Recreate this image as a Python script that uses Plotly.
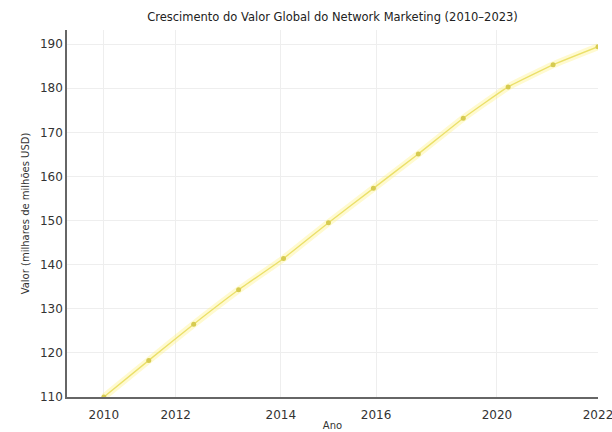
import plotly.graph_objects as go

# Data
years = [2010, 2011, 2012, 2013, 2014, 2015, 2016, 2017, 2018, 2019, 2020, 2021]
values = [110.0, 118.3, 126.5, 134.3, 141.4, 149.5, 157.3, 165.1, 173.2, 180.3, 185.3, 189.4]

# Tick labels as shown in the reference
x_tick_labels = ["2010", "2012", "2014", "2016", "2020", "2022"]
x_tick_pos = [2010, 2011.6, 2013.94, 2016.06, 2018.75, 2021.0]
y_ticks = [110, 120, 130, 140, 150, 160, 170, 180, 190]

FONT = "DejaVu Sans"

fig = go.Figure()
# soft glow under the line
fig.add_trace(go.Scatter(
    x=years, y=values, mode="lines",
    line=dict(color="rgba(255,242,120,0.35)", width=7, shape="spline", smoothing=0.4),
    hoverinfo="skip", showlegend=False,
))
fig.add_trace(go.Scatter(
    x=years, y=values, mode="lines+markers",
    line=dict(color="#ebe06a", width=1.4, shape="spline", smoothing=0.4),
    marker=dict(color="#d6cb50", size=5),
    showlegend=False,
))

fig.update_layout(
    width=612, height=432,
    margin=dict(l=67, r=14, t=30, b=35, autoexpand=False),
    paper_bgcolor="white", plot_bgcolor="white",
    font=dict(family=FONT, color="#333333", size=12),
    title=dict(
        text="Crescimento do Valor Global do Network Marketing (2010–2023)",
        font=dict(family=FONT, size=11.5, color="#222222"),
        x=0.5, xref="paper", xanchor="center",
        y=1 - 17 / 432, yref="container", yanchor="middle",
    ),
)
fig.update_xaxes(
    range=[2009.18, 2021.0],
    tickmode="array", tickvals=x_tick_pos, ticktext=x_tick_labels,
    showgrid=True, gridcolor="#eeeeee", gridwidth=1,
    showline=True, linecolor="#666666", linewidth=1.5,
    ticks="outside", ticklen=6, tickcolor="rgba(0,0,0,0)",
    tickfont=dict(size=12, color="#333333"),
    ticklabeloverflow="allow",
    automargin=False,
    zeroline=False,
    title=dict(text="Ano", font=dict(size=10, color="#333333"), standoff=1),
)
fig.update_yaxes(
    range=[110, 193.2],
    tickmode="array", tickvals=y_ticks,
    showgrid=True, gridcolor="#eeeeee", gridwidth=1,
    showline=True, linecolor="#666666", linewidth=1.5,
    ticks="", tickfont=dict(size=12, color="#333333"),
    automargin=False,
    zeroline=False,
    title=dict(text="Valor (milhares de milhões USD)", font=dict(size=10, color="#333333"), standoff=8),
)

fig.write_html("out.html")
